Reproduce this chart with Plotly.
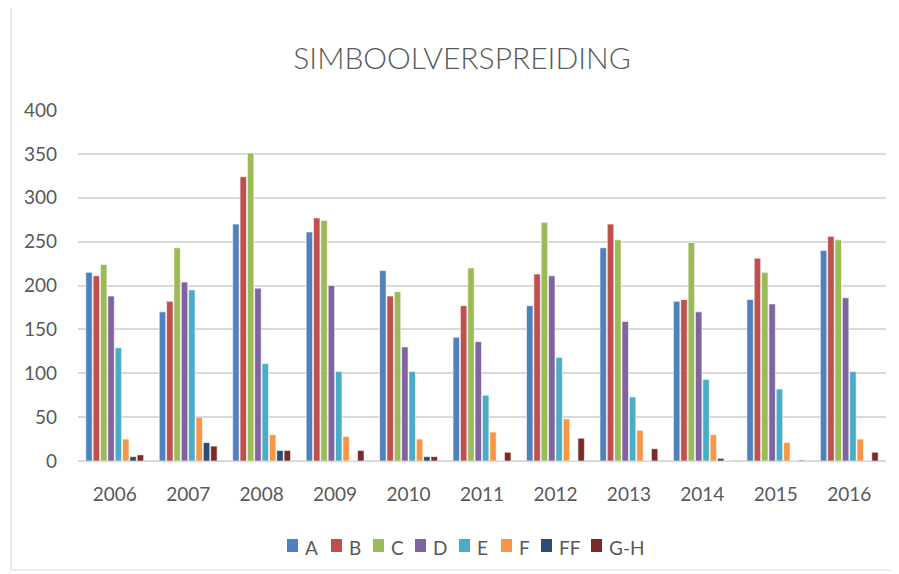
import plotly.graph_objects as go

years = ["2006", "2007", "2008", "2009", "2010", "2011", "2012", "2013", "2014", "2015", "2016"]
A = [215, 170, 270, 261, 217, 141, 177, 243, 182, 184, 240]
B = [211, 182, 324, 277, 188, 177, 213, 270, 184, 231, 256]
C = [224, 243, 351, 274, 193, 220, 272, 252, 249, 215, 252]
D = [188, 204, 197, 200, 130, 136, 211, 159, 170, 179, 186]
E = [129, 195, 111, 102, 102, 75, 118, 73, 93, 82, 102]
F = [25, 50, 30, 28, 25, 33, 48, 35, 30, 21, 25]
FF = [5, 21, 12, 0, 5, 0, 0, 0, 3, 0, 0]
GH = [7, 17, 12, 12, 5, 10, 26, 14, 0, 1, 10]

names = ["A", "B", "C", "D", "E", "F", "FF", "G-H"]
values = [A, B, C, D, E, F, FF, GH]
colors = ["#4f81bd", "#c0504d", "#9bbb59", "#8064a2", "#4bacc6", "#f79646", "#2c4d75", "#772c2a"]

# legend swatch left edges (screen px)
legend_x = [287, 331, 373, 415, 459, 501, 541, 591]

fig = go.Figure()
for name, vals, col in zip(names, values, colors):
    fig.add_trace(go.Bar(x=years, y=vals, name=name, marker_color=col,
                         marker_line_color="white", marker_line_width=0.6))

# page has an 8px body margin: compensate
O = 8
PX0, PX1, PY0, PY1 = 78, 886, 110, 461
W, H = 899 - O, 574 - O
l, t = PX0 - O, PY0 - O
pw, ph = PX1 - PX0, PY1 - PY0
r, b = W - l - pw, H - t - ph


def ppx(X):
    return (X - PX0) / pw


def ppy(Y):
    return (PY1 - Y) / ph


fam = "Lato, sans-serif"
grey = "#595959"

shapes = [
    dict(type="line", xref="paper", yref="paper", x0=ppx(11), x1=ppx(11),
         y0=ppy(O), y1=ppy(570), line=dict(color="#d9d9d9", width=1.2)),
    dict(type="line", xref="paper", yref="paper", x0=ppx(11), x1=ppx(899),
         y0=ppy(570), y1=ppy(570), line=dict(color="#d9d9d9", width=1.2)),
]
annotations = []
for name, col, lx in zip(names, colors, legend_x):
    shapes.append(dict(type="rect", xref="paper", yref="paper",
                       x0=ppx(lx), x1=ppx(lx + 11), y0=ppy(539), y1=ppy(552),
                       fillcolor=col, line=dict(width=0)))
    annotations.append(dict(text=name, xref="paper", yref="paper", x=ppx(lx + 16), y=ppy(547),
                            xanchor="left", yanchor="middle", showarrow=False,
                            font=dict(family=fam, size=19, color=grey)))

fig.update_layout(
    width=W, height=H,
    margin=dict(l=l, r=r, t=t, b=b, autoexpand=False),
    paper_bgcolor="white", plot_bgcolor="white",
    barmode="group", bargap=0.2, bargroupgap=0.12,
    title=dict(text="SIMBOOLVERSPREIDING", x=(462 - O) / W, xanchor="center",
               y=1 - (58 - O) / H, yanchor="middle",
               font=dict(family=fam, size=30, color=grey, weight=300)),
    font=dict(family=fam, color=grey),
    xaxis=dict(showgrid=False, showline=False, ticks="", tickfont=dict(size=19, color=grey),
               ticklabelstandoff=20),
    yaxis=dict(range=[0, 400], dtick=50, showgrid=True, gridcolor="#d9d9d9", gridwidth=1.5,
               zeroline=True, zerolinecolor="#d9d9d9", zerolinewidth=1.5,
               showline=False, ticks="", tickfont=dict(size=19, color=grey),
               ticklabelstandoff=20),
    showlegend=False,
    shapes=shapes,
    annotations=annotations,
)
fig.write_html("out.html")
